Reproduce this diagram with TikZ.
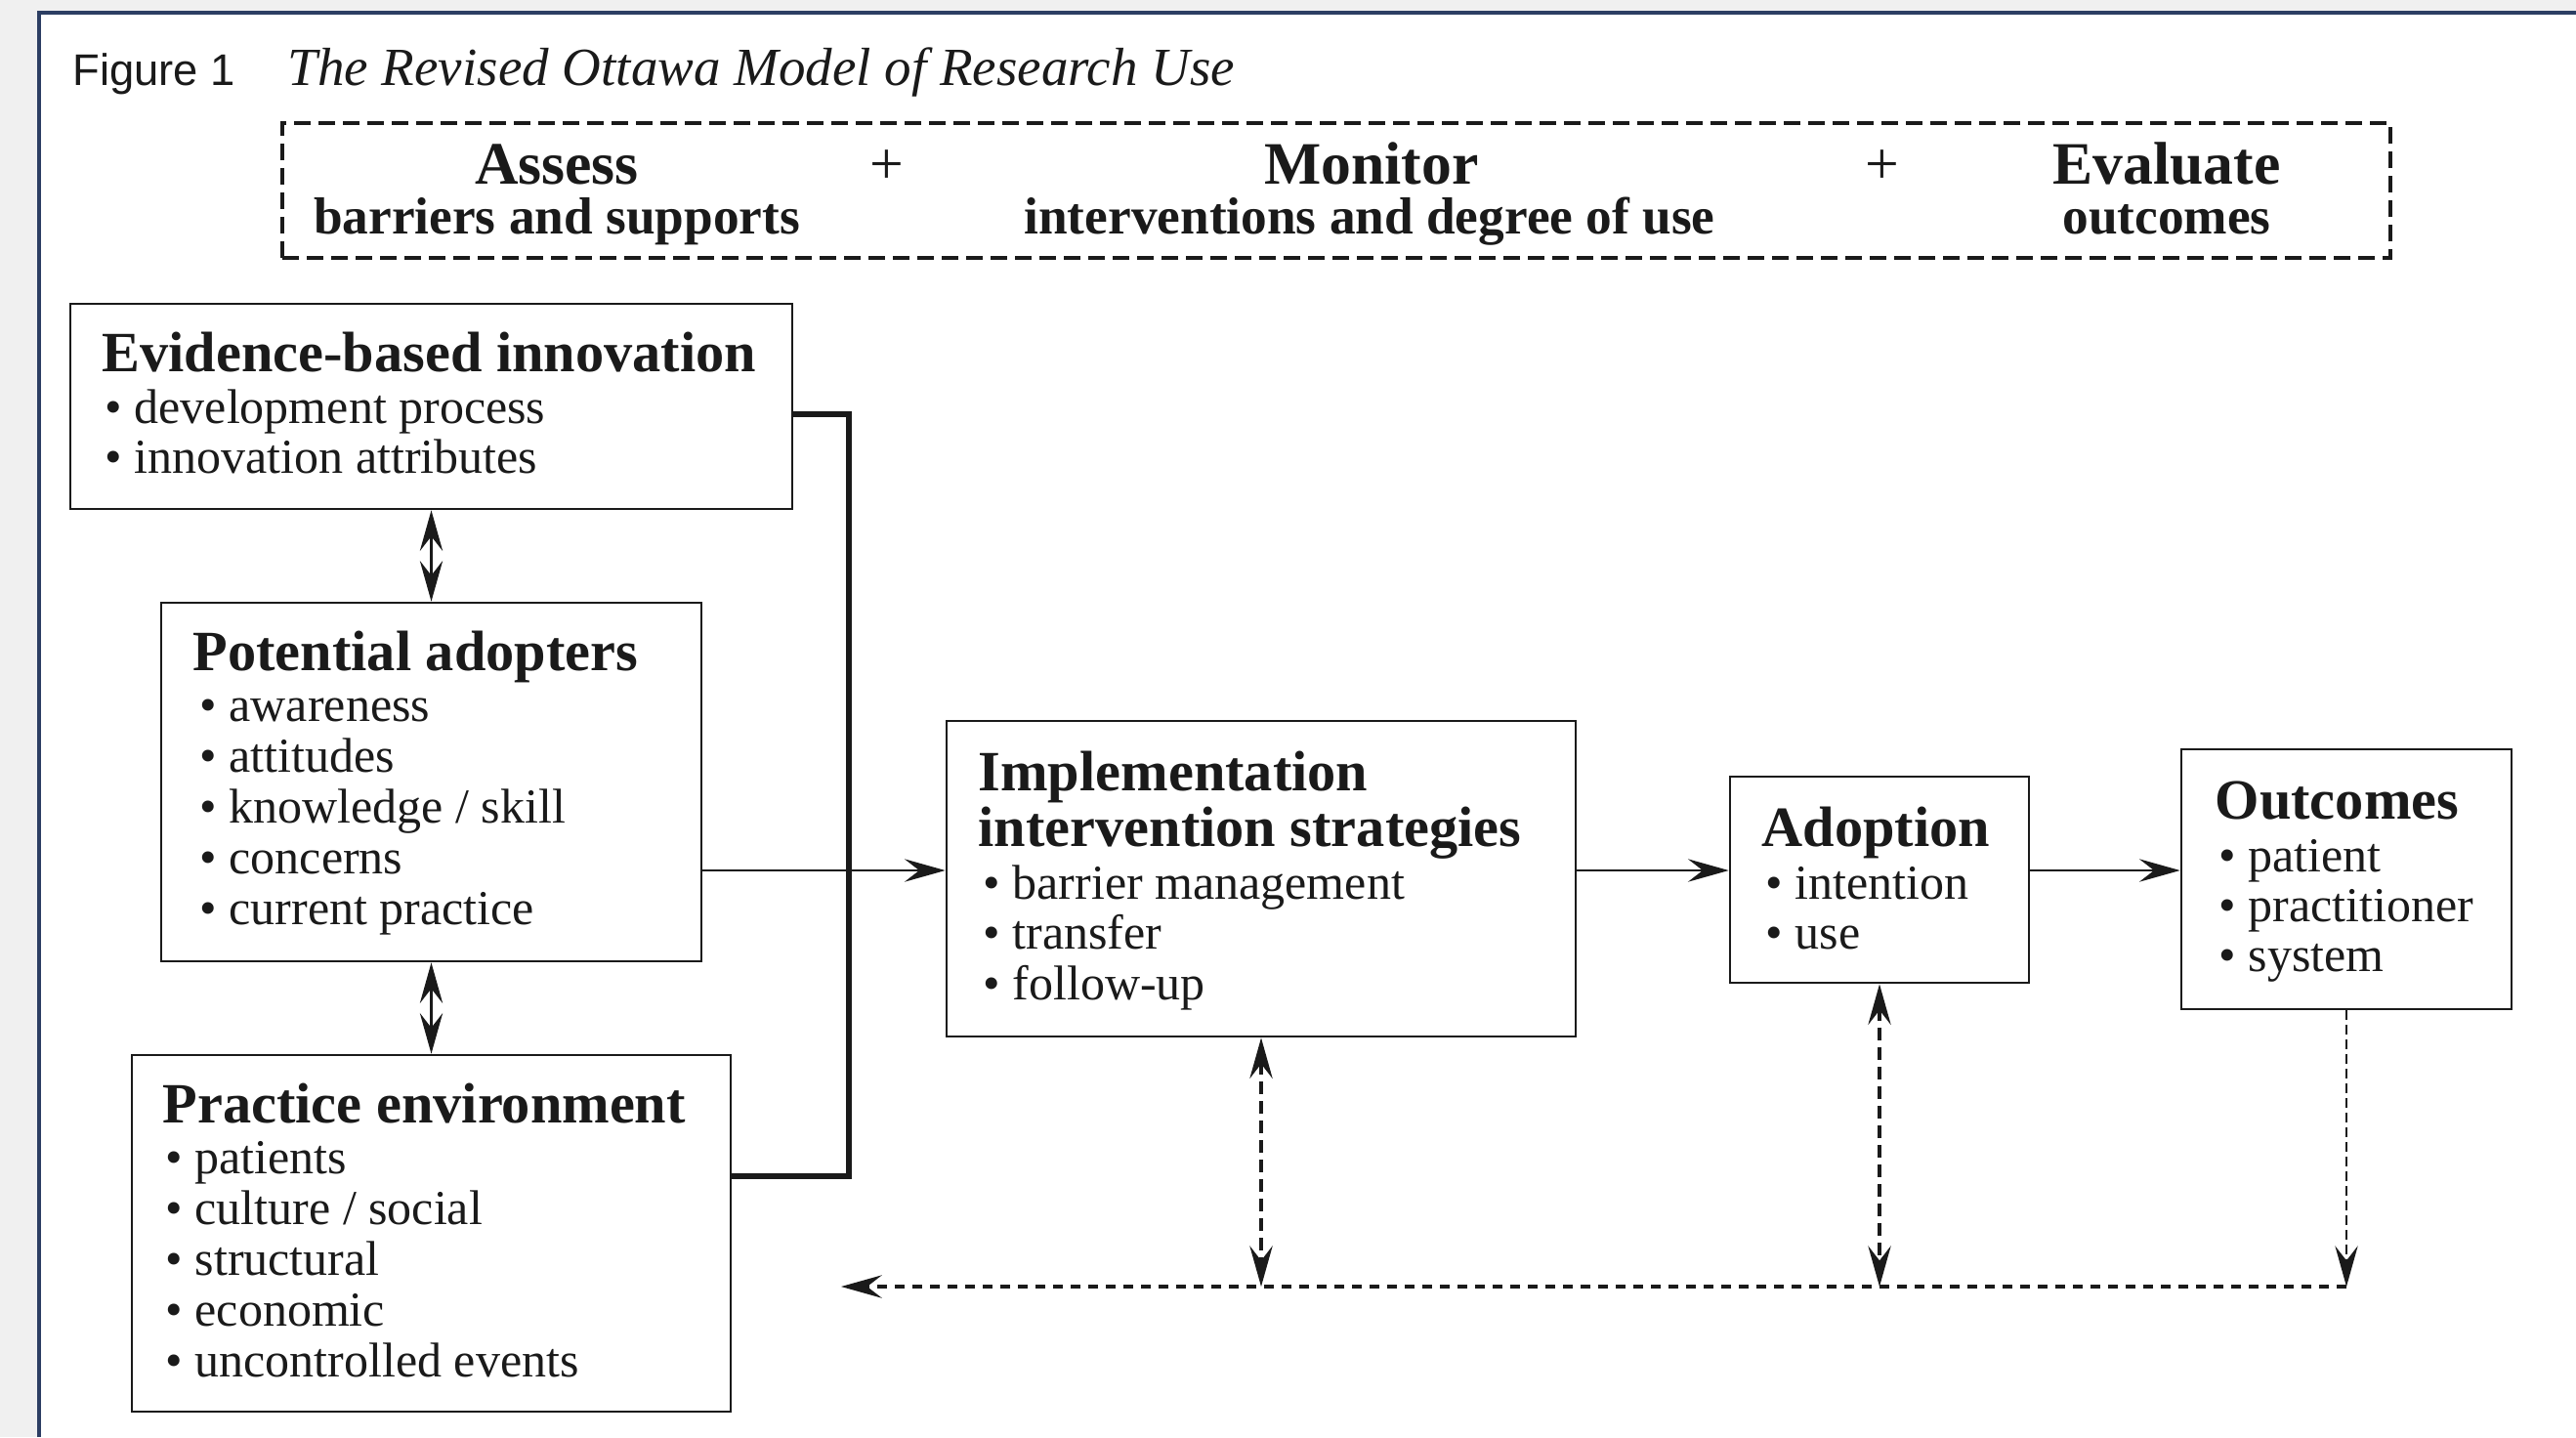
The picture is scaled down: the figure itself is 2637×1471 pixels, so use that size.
\documentclass[tikz,border=0pt]{standalone}
\usepackage{fontspec}
\setmainfont{Liberation Serif}
\newfontfamily\figsans{Liberation Sans}
\usetikzlibrary{arrows.meta,fit}
\definecolor{ink}{HTML}{1A1A1A}
\definecolor{navy}{HTML}{2C3E63}
\definecolor{pagegray}{HTML}{F0F0F0}
\newcommand\blist[5]{\foreach \t [count=\i] in {#5}{\node[txt] (#1-\i) at (#2,{#3+(\i-1)*#4}) {\textbullet\ \t};}}
\begin{document}
\begin{tikzpicture}[x=0.3pt,y=-0.3pt,
  >={Stealth[length=12.5pt,width=7pt,inset=4.5pt]},
  box/.style={draw=ink, line width=0.8pt, inner sep=0pt},
  ttl/.style={anchor=base west, inner sep=0pt, text=ink, font=\fontsize{17.5}{20}\selectfont\bfseries},
  txt/.style={anchor=base west, inner sep=0pt, text=ink, font=\fontsize{15}{18}\selectfont},
  hdw/.style={anchor=base, inner sep=0pt, text=ink, font=\fontsize{18.5}{22}\selectfont\bfseries},
  hds/.style={anchor=base, inner sep=0pt, text=ink, font=\fontsize{16}{19}\selectfont\bfseries},
  plus/.style={anchor=base, inner sep=0pt, text=ink, font=\fontsize{18.5}{22}\selectfont},
  conn/.style={draw=ink, line width=0.7pt},
  bracket/.style={draw=ink, line width=1.6pt},
  dshA/.style={draw=ink, line width=1pt, dash pattern=on 4pt off 2pt},
  dshB/.style={draw=ink, line width=0.6pt, dash pattern=on 3pt off 1.5pt},
  hdsh/.style={draw=ink, line width=1.1pt, dash pattern=on 3pt off 2.4pt}
]
\useasboundingbox (0,0) rectangle (2637,1471);
\fill[pagegray] (0,0) rectangle (2637,1471);
\fill[white] (40,13) rectangle (2637,1471);
\draw[navy, line width=1pt] (40,1471) -- (40,13) -- (2637,13);

% title
\node[anchor=base west, inner sep=0pt, text=ink, font=\figsans\fontsize{13.6}{16}\selectfont] (fig) at (74,87) {Figure 1};
\node[anchor=base west, inner sep=0pt, text=ink, font=\fontsize{16.5}{19}\selectfont\itshape] (figt) at (294,87) {The Revised Ottawa Model of Research Use};

% header box
\node[draw=ink, line width=1pt, dash pattern=on 5pt off 2.5pt, inner sep=0pt, fit={(289,126) (2447,264)}] (hb) {};
\node[hdw] (as) at (570,188) {Assess};
\node[hds] (as2) at (570,239) {barriers and supports};
\node[plus] (p1) at (908,188) {+};
\node[hdw] (mo) at (1404,188) {Monitor};
\node[hds] (mo2) at (1402,239) {interventions and degree of use};
\node[plus] (p2) at (1927,188) {+};
\node[hdw] (ev0) at (2218,188) {Evaluate};
\node[hds] (ev02) at (2218,239) {outcomes};

% boxes
\node[box, fit={(72,311) (811,521)}] (ev) {};
\node[box, fit={(165,617) (718,984)}] (pa) {};
\node[box, fit={(135,1080) (748,1445)}] (pe) {};
\node[box, fit={(969,738) (1613,1061)}] (im) {};
\node[box, fit={(1771,795) (2077,1006)}] (ad) {};
\node[box, fit={(2233,767) (2571,1033)}] (oc) {};

% box texts
\node[ttl] (evt) at (104,380) {Evidence-based innovation};
\blist{evb}{107}{433}{51}{development process,innovation attributes}
\node[ttl] (pat) at (197,686) {Potential adopters};
\blist{pab}{204}{738}{52}{awareness,attitudes,knowledge / skill,concerns,current practice}
\node[ttl] (pet) at (166,1149) {Practice environment};
\blist{peb}{169}{1201}{52}{patients,culture / social,structural,economic,uncontrolled events}
\node[ttl] (imt1) at (1001,809) {Implementation};
\node[ttl] (imt2) at (1001,866) {intervention strategies};
\blist{imb}{1006}{920}{51.5}{barrier management,transfer,follow-up}
\node[ttl] (adt) at (1803,866) {Adoption};
\blist{adb}{1807}{920}{51}{intention,use}
\node[ttl] (oct) at (2267,838) {Outcomes};
\blist{ocb}{2271}{892}{51}{patient,practitioner,system}

% connectors
\coordinate (m) at (0,891);
\coordinate (b1) at (869,424);
\coordinate (b2) at (869,1204);
\coordinate (h) at (0,1317);
\coordinate (tipL) at (861,1317);

\draw[conn,<->] (ev.south) -- (pa.north);
\draw[conn,<->] (pa.south) -- (pe.north);
\draw[bracket] (ev.east |- b1) -| (b2) -- (pe.east |- b2);
\draw[conn,->] (pa.east |- m) -- (im.west |- m);
\draw[conn,->] (im.east |- m) -- (ad.west |- m);
\draw[conn,->] (ad.east |- m) -- (oc.west |- m);
\draw[dshA,<->] (im.south) -- (im.south |- h);
\draw[dshA,<->] (ad.south) -- (ad.south |- h);
\draw[dshB,->] (oc.south) -- (oc.south |- h);
\draw[hdsh,->] (oc.south |- h) -- (tipL);
\end{tikzpicture}
\end{document}
